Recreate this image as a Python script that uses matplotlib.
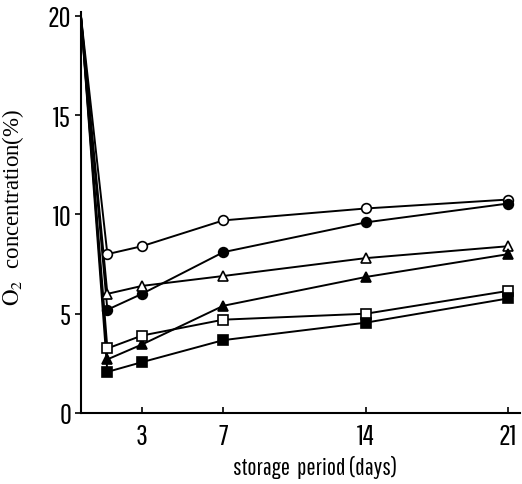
import matplotlib.pyplot as plt
from matplotlib import rcParams

rcParams['font.family'] = ['Pathway Gothic One', 'DejaVu Sans']
rcParams['mathtext.fontset'] = 'stix'

# storage days (day 0 = air, 20 %)
days = [0, 1.3, 3, 7, 14, 21]

# O2 concentration (%) for each treatment
o2_open_circle = [20, 8.0, 8.4, 9.7, 10.3, 10.75]
o2_filled_circle = [20, 5.2, 6.0, 8.1, 9.6, 10.55]
o2_open_triangle = [20, 6.0, 6.4, 6.9, 7.8, 8.4]
o2_filled_triangle = [20, 2.7, 3.45, 5.4, 6.85, 8.0]
o2_open_square = [20, 3.25, 3.9, 4.7, 5.0, 6.15]
o2_filled_square = [20, 2.07, 2.56, 3.67, 4.55, 5.77]

x_ticks = [3, 7, 14, 21]
y_ticks = [0, 5, 10, 15, 20]

series = [
    (o2_open_circle, 'o', 'white'),
    (o2_filled_circle, 'o', 'black'),
    (o2_open_triangle, '^', 'white'),
    (o2_filled_triangle, '^', 'black'),
    (o2_open_square, 's', 'white'),
    (o2_filled_square, 's', 'black'),
]

fig = plt.figure(figsize=(5.22, 4.85), dpi=100)
fig.set_facecolor('white')
ax = fig.add_axes([0.155, 0.1464, 0.842, 0.827])

for vals, mk, face in series:
    ax.plot(days, vals, color='black', linewidth=1.4, zorder=2)
    # marker only on measured days, not on the starting point
    ax.plot(days[1:], vals[1:], linestyle='none', marker=mk, markersize=7,
            markerfacecolor=face, markeredgecolor='black', markeredgewidth=1.2,
            zorder=3)

ax.set_xlim(0, 21.6)
ax.set_ylim(0, 20.2)
ax.set_xticks(x_ticks)
ax.set_yticks(y_ticks)

for side in ['top', 'right']:
    ax.spines[side].set_visible(False)
for side in ['left', 'bottom']:
    ax.spines[side].set_linewidth(1.5)

ax.tick_params(axis='x', direction='in', length=4, width=1.2, pad=7,
               labelsize=21)
ax.tick_params(axis='y', direction='out', length=4, width=1.2, pad=3,
               labelsize=21)

ax.set_xlabel('storage  period (days)', fontsize=17.5)
ax.xaxis.set_label_coords(0.533, -0.105)
ax.set_ylabel(r'$\mathrm{O_2}$  concentration(%)', fontsize=16.5,
              family='Liberation Serif')
ax.yaxis.set_label_coords(-0.125, 0.515)

plt.savefig('out.png', dpi=100, facecolor='white')
